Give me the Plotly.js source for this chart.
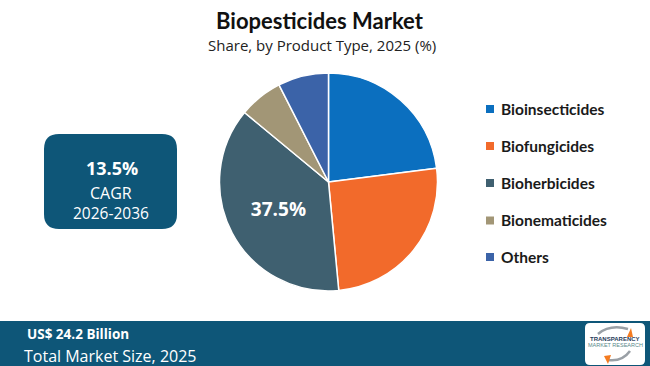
<!DOCTYPE html>
<html>
<head>
<meta charset="utf-8">
<script src="https://cdn.plot.ly/plotly-3.0.1.min.js"></script>
<style>html,body{margin:0;padding:0;background:#fff;}#chart{width:650px;height:366px;}</style>
</head>
<body>
<div id="chart"></div>
<script>
// ---- data ----
const categories = ['Bioinsecticides', 'Biofungicides', 'Bioherbicides', 'Bionematicides', 'Others'];
const shares = [23, 25.5, 37.5, 6.5, 7.5];
const sliceColors = ['#0b6fbf', '#f26a2b', '#3f6070', '#a29676', '#3b63a8'];
const labelledIndex = 2;
const titleText = 'Biopesticides Market';
const subtitleText = 'Share, by Product Type, 2025 (%)';
const cagrValue = '13.5%';
const cagrLabel = 'CAGR';
const cagrPeriod = '2026-2036';
const marketSize = 'US$ 24.2 Billion';
const marketSizeLabel = 'Total Market Size, 2025';

// ---- helpers (pixel -> paper) ----
const W = 650, H = 366;
const px = x => x / W;
const py = y => 1 - y / H;
function roundRect(x0, y0, x1, y1, r) {
  const p = (x, y) => px(x) + ',' + py(y);
  return 'M' + p(x0 + r, y0) + ' L' + p(x1 - r, y0) + ' Q' + p(x1, y0) + ' ' + p(x1, y0 + r) +
    ' L' + p(x1, y1 - r) + ' Q' + p(x1, y1) + ' ' + p(x1 - r, y1) +
    ' L' + p(x0 + r, y1) + ' Q' + p(x0, y1) + ' ' + p(x0, y1 - r) +
    ' L' + p(x0, y0 + r) + ' Q' + p(x0, y0) + ' ' + p(x0 + r, y0) + ' Z';
}
function pathPx(cmds) {
  return cmds.map(c => typeof c === 'string' ? c : (px(c[0]) + ',' + py(c[1]))).join(' ');
}

const teal = '#0e5678';
const pieText = shares.map((v, i) => i === labelledIndex ? v.toFixed(1) + '%' : '');

const trace = {
  type: 'pie',
  labels: categories,
  values: shares,
  text: pieText,
  textinfo: 'text',
  textposition: 'inside',
  insidetextorientation: 'horizontal',
  textfont: {family: 'Open Sans, sans-serif', size: 19, color: '#ffffff', weight: 'bold'},
  sort: false,
  direction: 'clockwise',
  rotation: 0,
  marker: {colors: sliceColors, line: {color: '#ffffff', width: 1.5}},
  domain: {x: [px(219.5), px(437.5)], y: [py(291), py(73)]},
  hoverinfo: 'label+percent',
  showlegend: false
};

const shapes = [
  // bottom band
  {type: 'rect', xref: 'paper', yref: 'paper', x0: 0, x1: 1, y0: 0, y1: py(321), fillcolor: teal, line: {width: 0}, layer: 'below'},
  // CAGR box
  {type: 'path', xref: 'paper', yref: 'paper', path: roundRect(44, 134, 177, 229, 15), fillcolor: teal, line: {width: 0}, layer: 'below'},
  // logo box
  {type: 'path', xref: 'paper', yref: 'paper', path: roundRect(585, 323, 645, 365, 5), fillcolor: '#ffffff', line: {width: 0}},
  // logo grey arcs
  {type: 'path', xref: 'paper', yref: 'paper', path: pathPx(['M', [598, 334], 'Q', [610, 324], [628, 329]]), line: {color: '#9aa0a6', width: 2.5}},
  {type: 'path', xref: 'paper', yref: 'paper', path: pathPx(['M', [630, 351], 'Q', [622, 362], [608, 360]]), line: {color: '#9aa0a6', width: 2.5}},
  // logo orange arrows
  {type: 'path', xref: 'paper', yref: 'paper', path: pathPx(['M', [627, 337], 'L', [631, 328], 'L', [633, 337], 'Z']), fillcolor: '#f47b20', line: {width: 0}},
  {type: 'path', xref: 'paper', yref: 'paper', path: pathPx(['M', [604, 356], 'L', [608, 364], 'L', [611, 355], 'Z']), fillcolor: '#f47b20', line: {width: 0}}
];

const annotations = [
  {text: '<b>' + titleText + '</b>', x: px(320), y: py(21), xref: 'paper', yref: 'paper', showarrow: false,
   xanchor: 'center', yanchor: 'middle', font: {family: 'Lato, sans-serif', size: 22, color: '#111111'}},
  {text: subtitleText, x: px(322), y: py(45), xref: 'paper', yref: 'paper', showarrow: false,
   xanchor: 'center', yanchor: 'middle', font: {family: 'Open Sans, sans-serif', size: 15, color: '#222222'}},
  {text: '<b>' + cagrValue + '</b>', x: px(112), y: py(168), xref: 'paper', yref: 'paper', showarrow: false,
   xanchor: 'center', yanchor: 'middle', font: {family: 'Open Sans, sans-serif', size: 18, color: '#ffffff'}},
  {text: cagrLabel, x: px(111), y: py(193), xref: 'paper', yref: 'paper', showarrow: false,
   xanchor: 'center', yanchor: 'middle', font: {family: 'Open Sans, sans-serif', size: 16, color: '#ffffff'}},
  {text: cagrPeriod, x: px(111), y: py(213), xref: 'paper', yref: 'paper', showarrow: false,
   xanchor: 'center', yanchor: 'middle', font: {family: 'Open Sans, sans-serif', size: 15.5, color: '#ffffff'}},
  {text: '<b>' + marketSize + '</b>', x: px(26), y: py(343.5), xref: 'paper', yref: 'paper', showarrow: false,
   xanchor: 'left', yanchor: 'bottom', borderpad: 0, font: {family: 'Open Sans, sans-serif', size: 13.5, color: '#ffffff'}},
  {text: marketSizeLabel, x: px(23), y: py(343.5), xref: 'paper', yref: 'paper', showarrow: false,
   xanchor: 'left', yanchor: 'top', borderpad: 0, font: {family: 'Open Sans, sans-serif', size: 16, color: '#ffffff'}},
  {text: '<b>TRANSPARENCY</b>', x: px(615), y: py(339), xref: 'paper', yref: 'paper', showarrow: false,
   xanchor: 'center', yanchor: 'middle', font: {family: 'Liberation Sans, sans-serif', size: 6, color: '#1f3a5a'}},
  {text: 'MARKET RESEARCH', x: px(615), y: py(345), xref: 'paper', yref: 'paper', showarrow: false,
   xanchor: 'center', yanchor: 'middle', font: {family: 'Liberation Sans, sans-serif', size: 5.5, color: '#5a8a8a'}}
];

// legend (built from category/colour arrays)
const legendY = [109, 146, 183, 220.5, 257];
categories.forEach((c, i) => {
  shapes.push({type: 'rect', xref: 'paper', yref: 'paper', x0: px(486), x1: px(494),
    y0: py(legendY[i] + 4), y1: py(legendY[i] - 4), fillcolor: sliceColors[i], line: {width: 0}});
  annotations.push({text: '<b>' + c + '</b>', x: px(499), y: py(legendY[i]), xref: 'paper', yref: 'paper',
    showarrow: false, xanchor: 'left', yanchor: 'middle', font: {family: 'Lato, sans-serif', size: 15.5, color: '#1a1a1a'}});
});

const layout = {
  width: W, height: H,
  margin: {l: 0, r: 0, t: 0, b: 0},
  paper_bgcolor: '#ffffff',
  plot_bgcolor: '#ffffff',
  showlegend: false,
  shapes: shapes,
  annotations: annotations
};

Plotly.newPlot('chart', [trace], layout, {displayModeBar: false, staticPlot: true});
</script>
</body>
</html>
